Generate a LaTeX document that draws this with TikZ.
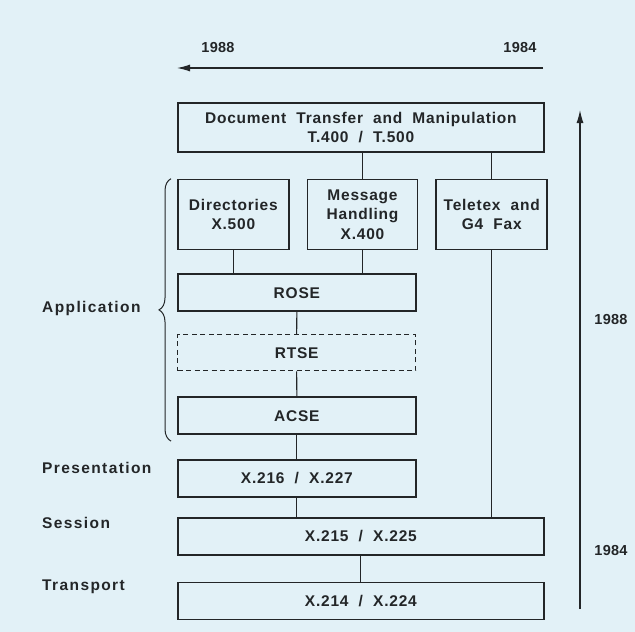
\documentclass[tikz,border=0pt]{standalone}
\usepackage{fontspec}
\setmainfont{Liberation Sans}[LetterSpace=5,WordSpace=2]
\usetikzlibrary{positioning,arrows.meta,decorations.pathreplacing}
\definecolor{paper}{RGB}{226,241,247}
\definecolor{ink}{RGB}{35,38,40}

\begin{document}
\begin{tikzpicture}[
  x=1pt, y=-1pt,
  node distance=20pt,
  every node/.style={font=\bfseries\fontsize{15.5}{19.5}\selectfont, text=ink, align=center, inner sep=0pt},
  box/.style={draw=ink, line width=1.7pt, minimum height=37pt},
  layer/.style={anchor=west, font=\bfseries\fontsize{15.5}{19.5}\selectfont\addfontfeature{LetterSpace=9}},
  year/.style={font=\bfseries\fontsize{14.5}{17}\selectfont\addfontfeature{LetterSpace=2}},
  wire/.style={draw=ink, line width=1.1pt},
  era/.style={draw=ink, line width=1.1pt, -{Latex[length=13pt,width=7pt]}}
]
\fill[paper] (0,0) rectangle (635,632);
\useasboundingbox (0,0) rectangle (635,632);

% time axis on top
\coordinate (t84) at (543,68);
\coordinate (t88) at (177,68);
\draw[era] (t84) -- (t88);
\node[year] (y88top) at (218,48) {1988};
\node[year] (y84top) at (520,48) {1984};

% standards
\node[box, anchor=north west, minimum width=366pt, minimum height=49pt] (DTM) at (177,102) {Document Transfer and Manipulation\\T.400 / T.500};
\node[box, below=26pt of DTM.south west, anchor=north west, minimum width=111pt, minimum height=70pt] (DIR) {Directories\\X.500};
\node[box, right=17pt of DIR.north east, anchor=north west, minimum width=110pt, minimum height=70pt] (MHS) {Message\\Handling\\X.400};
\node[box, right=17pt of MHS.north east, anchor=north west, minimum width=111pt, minimum height=70pt] (TEL) {Teletex and\\G4 Fax};
\node[box, below=23pt of DIR.south west, anchor=north west, minimum width=238pt] (ROSE) {ROSE};
\node[box, dash pattern=on 5pt off 3.5pt, line width=1.3pt, below=22pt of ROSE.south west, anchor=north west, minimum width=238pt, minimum height=36pt] (RTSE) {RTSE};
\node[box, below=25pt of RTSE.south west, anchor=north west, minimum width=238pt] (ACSE) {ACSE};
\node[box, below=24pt of ACSE.south west, anchor=north west, minimum width=238pt] (PRE) {X.216 / X.227};
\node[box, below=19pt of PRE.south west, anchor=north west, minimum width=366pt] (SES) {X.215 / X.225};
\node[box, below=26pt of SES.south west, anchor=north west, minimum width=366pt] (TRA) {X.214 / X.224};

\draw[wire] (MHS.north) -- (MHS.north |- DTM.south);
\draw[wire] (TEL.north) -- (TEL.north |- DTM.south);
\draw[wire] (DIR.south) -- (DIR.south |- ROSE.north);
\draw[wire] (MHS.south) -- (MHS.south |- ROSE.north);
\draw[wire] (ROSE.south) -- (RTSE.north);
\draw[wire] (RTSE.south) -- (ACSE.north);
\draw[wire] (ACSE.south) -- (PRE.north);
\draw[wire] (PRE.south) -- (PRE.south |- SES.north);
\draw[wire] (TEL.south) -- (TEL.south |- SES.north);
\draw[wire] (SES.south) -- (TRA.north);

% layer names
\draw[ink, line width=1pt, decorate, decoration={brace, amplitude=12pt}]
  ([shift={(-6,6)}]ACSE.south west) -- ([shift={(-6,0)}]DIR.north west);
\node[layer] (Lapp) at (42,308) {Application};
\node[layer] (Lpre) at (42,468) {Presentation};
\node[layer] (Lses) at (42,523) {Session};
\node[layer] (Ltra) at (42,587) {Transport};

% time axis on the right
\coordinate (r84) at (580,609);
\coordinate (r88) at (580,110);
\draw[era] (r84) -- (r88);
\node[year] (y88side) at (611,320) {1988};
\node[year] (y84side) at (611,551) {1984};
\end{tikzpicture}
\end{document}
